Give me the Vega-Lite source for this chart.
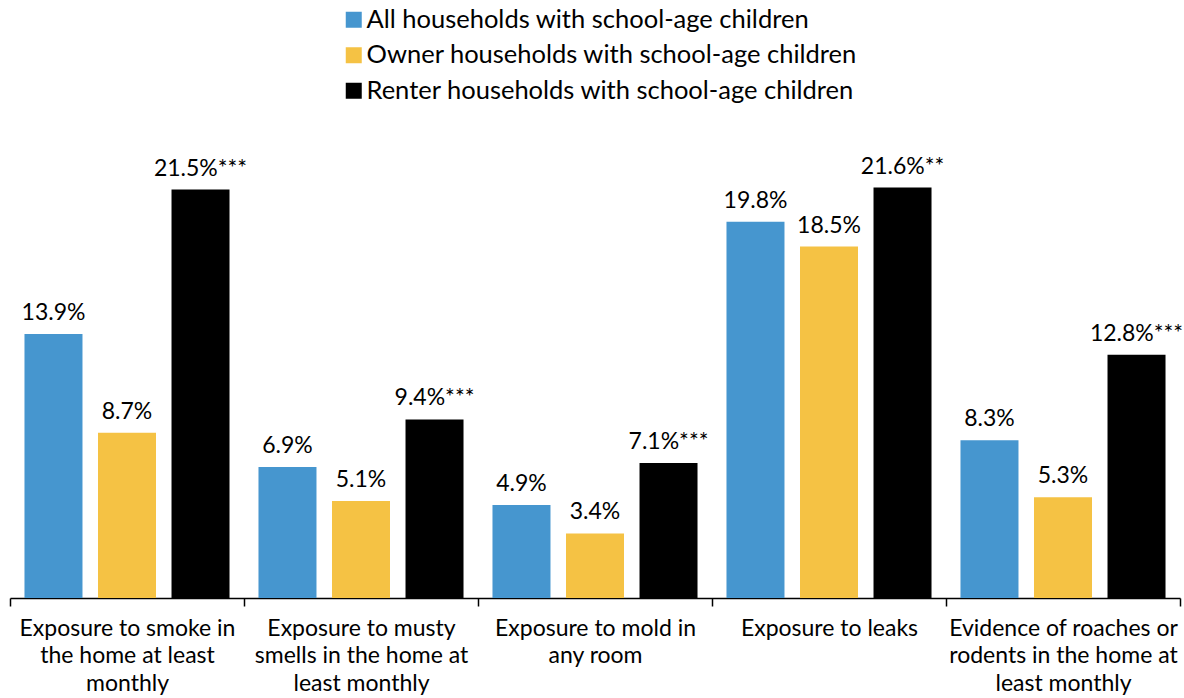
{
  "$schema": "https://vega.github.io/schema/vega-lite/v6.json",
  "width": 1170,
  "height": 456,
  "autosize": "none",
  "padding": {"left": 10, "top": 142, "right": 4, "bottom": 100},
  "background": "white",
  "config": {
    "view": {"stroke": null},
    "font": "Lato",
    "text": {"font": "Lato"}
  },
  "data": {
    "values": [
      {"category": "Exposure to smoke in the home at least monthly", "series": "All households with school-age children", "value": 13.9, "label": "13.9%"},
      {"category": "Exposure to smoke in the home at least monthly", "series": "Owner households with school-age children", "value": 8.7, "label": "8.7%"},
      {"category": "Exposure to smoke in the home at least monthly", "series": "Renter households with school-age children", "value": 21.5, "label": "21.5%***"},
      {"category": "Exposure to musty smells in the home at least monthly", "series": "All households with school-age children", "value": 6.9, "label": "6.9%"},
      {"category": "Exposure to musty smells in the home at least monthly", "series": "Owner households with school-age children", "value": 5.1, "label": "5.1%"},
      {"category": "Exposure to musty smells in the home at least monthly", "series": "Renter households with school-age children", "value": 9.4, "label": "9.4%***"},
      {"category": "Exposure to mold in any room", "series": "All households with school-age children", "value": 4.9, "label": "4.9%"},
      {"category": "Exposure to mold in any room", "series": "Owner households with school-age children", "value": 3.4, "label": "3.4%"},
      {"category": "Exposure to mold in any room", "series": "Renter households with school-age children", "value": 7.1, "label": "7.1%***"},
      {"category": "Exposure to leaks", "series": "All households with school-age children", "value": 19.8, "label": "19.8%"},
      {"category": "Exposure to leaks", "series": "Owner households with school-age children", "value": 18.5, "label": "18.5%"},
      {"category": "Exposure to leaks", "series": "Renter households with school-age children", "value": 21.6, "label": "21.6%**"},
      {"category": "Evidence of roaches or rodents in the home at least monthly", "series": "All households with school-age children", "value": 8.3, "label": "8.3%"},
      {"category": "Evidence of roaches or rodents in the home at least monthly", "series": "Owner households with school-age children", "value": 5.3, "label": "5.3%"},
      {"category": "Evidence of roaches or rodents in the home at least monthly", "series": "Renter households with school-age children", "value": 12.8, "label": "12.8%***"}
    ]
  },
  "encoding": {
    "x": {
      "field": "category",
      "type": "nominal",
      "sort": null,
      "scale": {"paddingInner": 0, "paddingOuter": 0},
      "axis": {
        "title": null,
        "labelAngle": 0,
        "labelFont": "Lato",
        "labelFontSize": 23,
        "labelColor": "#000000",
        "labelLineHeight": 27.5,
        "labelBaseline": "top",
        "labelPadding": 11,
        "labelLimit": 0,
        "domainColor": "#000000",
        "domainWidth": 1.5,
        "tickColor": "#000000",
        "tickWidth": 1.5,
        "tickSize": 8,
        "tickBand": "extent",
        "labelExpr": "datum.value == 'Exposure to smoke in the home at least monthly' ? ['Exposure to smoke in', 'the home at least', 'monthly'] : datum.value == 'Exposure to musty smells in the home at least monthly' ? ['Exposure to musty', 'smells in the home at', 'least monthly'] : datum.value == 'Exposure to mold in any room' ? ['Exposure to mold in', 'any room'] : datum.value == 'Evidence of roaches or rodents in the home at least monthly' ? ['Evidence of roaches or', 'rodents in the home at', 'least monthly'] : datum.value"
      }
    },
    "xOffset": {
      "field": "series",
      "type": "nominal",
      "sort": null,
      "scale": {"paddingInner": 0.211, "paddingOuter": 0.197}
    },
    "y": {
      "field": "value",
      "type": "quantitative",
      "scale": {"domain": [0, 24]},
      "axis": null
    }
  },
  "layer": [
    {
      "mark": {"type": "bar"},
      "encoding": {
        "color": {
          "field": "series",
          "type": "nominal",
          "sort": null,
          "scale": {
            "domain": ["All households with school-age children", "Owner households with school-age children", "Renter households with school-age children"],
            "range": ["#4696CF", "#F5C244", "#000000"]
          },
          "legend": {
            "title": null,
            "orient": "none",
            "legendX": 331,
            "legendY": -135,
            "direction": "vertical",
            "padding": 0,
            "symbolType": "square",
            "symbolSize": 256,
            "symbolStrokeWidth": 0,
            "symbolOpacity": 1,
            "labelFont": "Lato",
            "labelFontSize": 25.5,
            "labelColor": "#000000",
            "labelOffset": 0,
            "labelLimit": 0,
            "rowPadding": 8.5
          }
        }
      }
    },
    {
      "mark": {"type": "text", "baseline": "alphabetic", "dy": -14, "fontSize": 23, "font": "Lato", "color": "#000000"},
      "encoding": {
        "text": {"field": "label"}
      }
    }
  ]
}
